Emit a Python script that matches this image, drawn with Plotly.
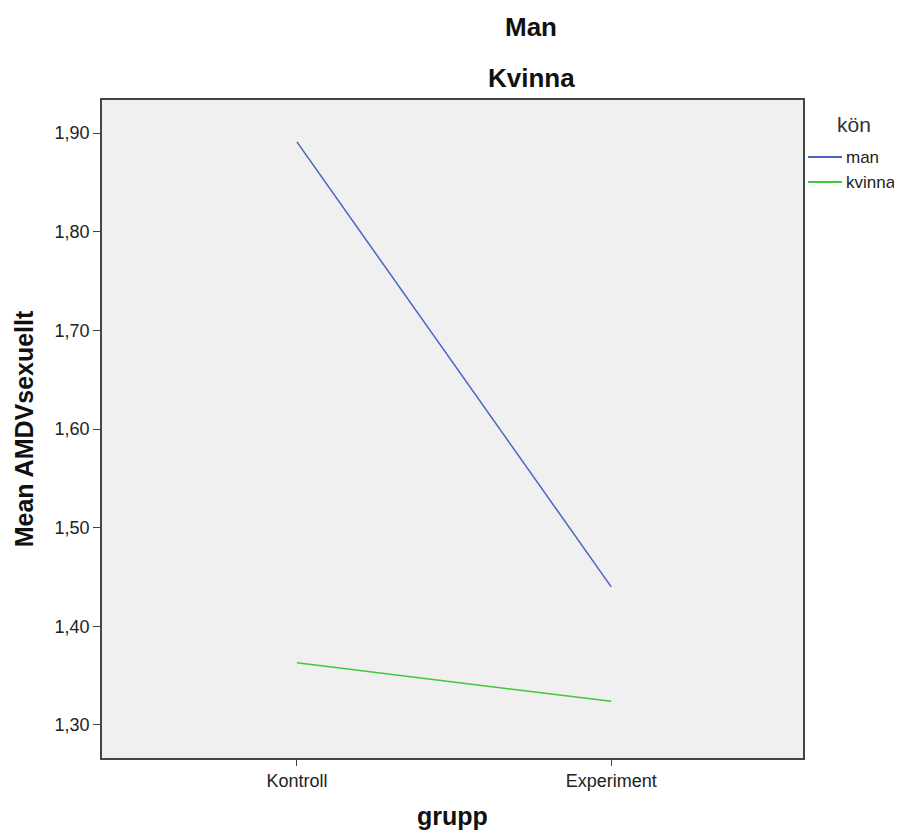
import plotly.graph_objects as go

grupp = ["Kontroll", "Experiment"]
man_values = [1.891, 1.440]
kvinna_values = [1.363, 1.324]
series_names = ["man", "kvinna"]
series_colors = ["#4a62c4", "#3ec83e"]
y_ticks = [1.30, 1.40, 1.50, 1.60, 1.70, 1.80, 1.90]
y_tick_labels = ["1,30", "1,40", "1,50", "1,60", "1,70", "1,80", "1,90"]

FONT = "Liberation Sans, Arial, sans-serif"

# plot area in screenshot pixels (page has an 8px body offset)
PL, PR, PT, PB = 102, 803, 100, 758
OFF = 8
W, H = 902 - OFF, 838 - 2 * OFF


def px(x):
    return (x - PL) / (PR - PL)


def py(y):
    return (PB - y) / (PB - PT)


fig = go.Figure()
for name, vals, col in zip(series_names, [man_values, kvinna_values], series_colors):
    fig.add_trace(go.Scatter(x=grupp, y=vals, mode="lines", name=name,
                             line=dict(color=col, width=1.5), showlegend=False))

annotations = [
    dict(text="<b>Man</b>", x=px(531), y=py(27), font=dict(size=26, color="#111")),
    dict(text="<b>Kvinna</b>", x=px(531), y=py(78), font=dict(size=26, color="#111")),
    dict(text="kön", x=px(854), y=py(124), font=dict(size=21, color="#333")),
]
shapes = []
legend_y = [157, 182]
for name, col, ly in zip(series_names, series_colors, legend_y):
    shapes.append(dict(type="line", xref="paper", yref="paper",
                       x0=px(808), x1=px(842), y0=py(ly), y1=py(ly),
                       line=dict(color=col, width=2)))
    annotations.append(dict(text=name, x=px(844), y=py(ly), xanchor="left",
                            font=dict(size=17, color="#222")))
for a in annotations:
    a.setdefault("xanchor", "center")
    a.update(xref="paper", yref="paper", yanchor="middle", showarrow=False)

fig.update_layout(
    width=W, height=H,
    margin=dict(l=PL - OFF, r=W - (PR - OFF), t=PT - OFF, b=H - (PB - OFF)),
    paper_bgcolor="white",
    plot_bgcolor="#f0f0f0",
    font=dict(family=FONT, size=18, color="#222"),
    showlegend=False,
    annotations=annotations,
    shapes=shapes,
)

fig.update_xaxes(
    type="category", range=[-0.62, 1.61], automargin=False,
    showgrid=False, zeroline=False,
    showline=True, linecolor="#444", linewidth=1.5, mirror=True,
    ticks="outside", ticklen=6, tickcolor="#444",
    tickfont=dict(size=18, color="#222"),
    title=dict(text="<b>grupp</b>", font=dict(size=25, color="#111"), standoff=18),
)
fig.update_yaxes(
    range=[1.2665, 1.9335], automargin=False,
    tickvals=y_ticks, ticktext=y_tick_labels,
    showgrid=False, zeroline=False,
    showline=True, linecolor="#444", linewidth=1.5, mirror=True,
    ticks="outside", ticklen=7, tickcolor="#444",
    tickfont=dict(size=18, color="#222"),
    title=dict(text="<b>Mean AMDVsexuellt</b>", font=dict(size=25, color="#111"), standoff=14),
)

fig.write_html("out.html")
